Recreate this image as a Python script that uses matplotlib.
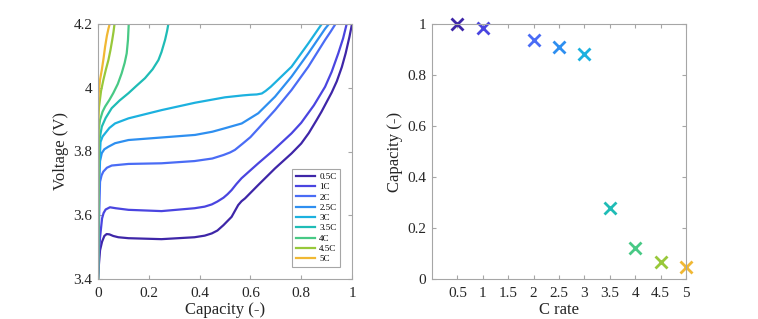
import numpy as np
import matplotlib
matplotlib.use("Agg")
import matplotlib.pyplot as plt

# C rates and their final capacities (right panel)
c_rates = [0.5, 1, 2, 2.5, 3, 3.5, 4, 4.5, 5]
c_labels = ['0.5C', '1C', '2C', '2.5C', '3C', '3.5C', '4C', '4.5C', '5C']
final_cap = [1.0, 0.983, 0.937, 0.911, 0.882, 0.277, 0.120, 0.065, 0.046]

# parula-like colours
colors = ['#3e26a8', '#4a45e0', '#4a6cf5', '#2e8ff0', '#1cb1df',
          '#1fbcb6', '#48c985', '#98c83a', '#f0b834']

# charge curves: capacity (-), voltage (V)
cap_05 = [0, 0.004, 0.008, 0.016, 0.025, 0.034, 0.045, 0.06, 0.08, 0.12, 0.25, 0.38, 0.42,
          0.448, 0.47, 0.494, 0.51, 0.526, 0.54, 0.552, 0.565, 0.579, 0.60, 0.631, 0.697,
          0.762, 0.80, 0.83, 0.861, 0.88, 0.90, 0.92, 0.94, 0.96, 0.975, 0.99, 1.0]
v_05 = [3.40, 3.45, 3.49, 3.517, 3.535, 3.541, 3.540, 3.535, 3.531, 3.528, 3.525, 3.531, 3.536,
        3.543, 3.552, 3.569, 3.582, 3.595, 3.615, 3.632, 3.644, 3.653, 3.670, 3.695, 3.747,
        3.794, 3.825, 3.858, 3.899, 3.925, 3.955, 3.985, 4.02, 4.065, 4.108, 4.16, 4.2]

cap_1 = [0, 0.004, 0.008, 0.012, 0.016, 0.022, 0.03, 0.047, 0.07, 0.12, 0.25, 0.38, 0.42,
         0.448, 0.47, 0.494, 0.51, 0.526, 0.545, 0.565, 0.60, 0.631, 0.685, 0.762, 0.80,
         0.85, 0.894, 0.92, 0.946, 0.965, 0.979]
v_1 = [3.40, 3.48, 3.53, 3.56, 3.59, 3.607, 3.618, 3.625, 3.622, 3.617, 3.613, 3.622, 3.627,
       3.634, 3.643, 3.655, 3.666, 3.679, 3.698, 3.716, 3.741, 3.763, 3.80, 3.857, 3.89,
       3.945, 4.003, 4.05, 4.108, 4.155, 4.2]

cap_2 = [0, 0.003, 0.008, 0.014, 0.021, 0.035, 0.054, 0.12, 0.25, 0.38, 0.45, 0.494, 0.52,
         0.539, 0.57, 0.6, 0.631, 0.697, 0.762, 0.828, 0.894, 0.915, 0.935]
v_2 = [3.40, 3.55, 3.705, 3.725, 3.737, 3.749, 3.756, 3.761, 3.763, 3.770, 3.778, 3.789, 3.797,
       3.805, 3.825, 3.845, 3.872, 3.930, 3.993, 4.066, 4.150, 4.175, 4.2]

cap_25 = [0, 0.003, 0.008, 0.015, 0.025, 0.041, 0.067, 0.12, 0.251, 0.382, 0.45, 0.5, 0.566,
          0.631, 0.697, 0.762, 0.828, 0.894, 0.909]
v_25 = [3.40, 3.65, 3.77, 3.795, 3.807, 3.815, 3.826, 3.836, 3.844, 3.852, 3.862, 3.873, 3.888,
        3.920, 3.972, 4.035, 4.108, 4.185, 4.2]

cap_3 = [0, 0.003, 0.01, 0.018, 0.028, 0.045, 0.067, 0.12, 0.251, 0.382, 0.5, 0.57, 0.60,
         0.625, 0.645, 0.66, 0.68, 0.697, 0.762, 0.828, 0.881]
v_3 = [3.40, 3.72, 3.83, 3.847, 3.857, 3.874, 3.888, 3.904, 3.930, 3.953, 3.970, 3.976, 3.978,
       3.979, 3.982, 3.990, 4.003, 4.016, 4.066, 4.139, 4.2]

cap_35 = [0, 0.001, 0.004, 0.015, 0.03, 0.054, 0.085, 0.12, 0.15, 0.185, 0.215, 0.238,
          0.25, 0.264, 0.272, 0.277]
v_35 = [3.40, 3.75, 3.83, 3.878, 3.905, 3.936, 3.960, 3.983, 4.005, 4.030, 4.058, 4.087,
        4.112, 4.150, 4.178, 4.2]

cap_4 = [0, 0.001, 0.003, 0.008, 0.018, 0.028, 0.045, 0.06, 0.078, 0.093, 0.105, 0.113,
         0.118, 0.121]
v_4 = [3.40, 3.80, 3.87, 3.899, 3.925, 3.941, 3.962, 3.983, 4.012, 4.045, 4.078, 4.108,
       4.15, 4.2]

cap_45 = [0, 0.001, 0.004, 0.012, 0.021, 0.031, 0.041, 0.049, 0.056, 0.061, 0.065]
v_45 = [3.40, 3.90, 3.94, 3.99, 4.024, 4.057, 4.087, 4.118, 4.15, 4.175, 4.2]

cap_5 = [0, 0.001, 0.003, 0.008, 0.015, 0.022, 0.028, 0.035, 0.041, 0.046]
v_5 = [3.40, 3.95, 3.985, 4.025, 4.056, 4.093, 4.129, 4.163, 4.185, 4.2]

curves = [(cap_05, v_05), (cap_1, v_1), (cap_2, v_2), (cap_25, v_25), (cap_3, v_3),
          (cap_35, v_35), (cap_4, v_4), (cap_45, v_45), (cap_5, v_5)]

plt.rcParams['font.family'] = ['Liberation Serif', 'DejaVu Serif']
edge = '#a6a6a6'
txt = '#262626'

fig = plt.figure(figsize=(7.58, 3.19), dpi=100)
ax1 = fig.add_axes([98 / 758, 1 - 279 / 319, 254 / 758, 255 / 319])
ax2 = fig.add_axes([432 / 758, 1 - 279 / 319, 254 / 758, 255 / 319])


def style(ax):
    for s in ax.spines.values():
        s.set_color(edge)
        s.set_linewidth(0.8)
    ax.tick_params(direction='in', top=True, right=True, length=3,
                   color=edge, labelcolor=txt, labelsize=11)
    ax.tick_params(axis='x', pad=6)
    ax.tick_params(axis='y', pad=4)


for (cx, cv), col, lab in zip(curves, colors, c_labels):
    ax1.plot(cx, cv, color=col, lw=1.6, label=lab, solid_joinstyle='round')
ax1.set_xlim(0, 1)
ax1.set_ylim(3.4, 4.2)
ax1.set_xticks(np.arange(0, 1.01, 0.2))
ax1.set_xticklabels(['0', '0.2', '0.4', '0.6', '0.8', '1'])
ax1.set_yticks([3.4, 3.6, 3.8, 4.0, 4.2])
ax1.set_yticklabels(['3.4', '3.6', '3.8', '4', '4.2'])
ax1.set_xlabel('Capacity (-)', fontsize=12, color=txt, labelpad=1)
ax1.set_ylabel('Voltage (V)', fontsize=12, color=txt, labelpad=3)
style(ax1)
leg = ax1.legend(loc='lower right', bbox_to_anchor=(0.953, 0.047), borderaxespad=0,
                 fontsize=6.5, fancybox=False, framealpha=1, edgecolor=edge,
                 handlelength=2.1, labelspacing=0.22, handletextpad=0.5,
                 borderpad=0.4)
leg.get_frame().set_linewidth(0.8)

for x, y, col in zip(c_rates, final_cap, colors):
    ax2.plot(x, y, 'x', color=col, ms=9, mew=2, clip_on=False)
ax2.set_xlim(0, 5)
ax2.set_ylim(0, 1)
ax2.set_xticks([0.5, 1, 1.5, 2, 2.5, 3, 3.5, 4, 4.5, 5])
ax2.set_xticklabels(['0.5', '1', '1.5', '2', '2.5', '3', '3.5', '4', '4.5', '5'])
ax2.set_yticks(np.arange(0, 1.01, 0.2))
ax2.set_yticklabels(['0', '0.2', '0.4', '0.6', '0.8', '1'])
ax2.set_xlabel('C rate', fontsize=12, color=txt, labelpad=1)
ax2.set_ylabel('Capacity (-)', fontsize=12, color=txt, labelpad=3)
style(ax2)

fig.savefig('out.png', dpi=100)
